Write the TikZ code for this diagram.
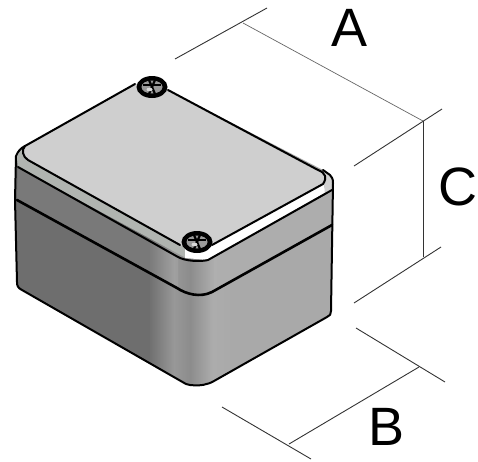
\documentclass[tikz,border=0pt]{standalone}
\usepackage{fontspec}
\setmainfont{Liberation Sans}
\usetikzlibrary{calc}
\definecolor{boxdark}{HTML}{6E6E6E}
\definecolor{boxmid}{HTML}{989898}
\definecolor{boxmidb}{HTML}{8C8C8C}
\definecolor{boxlite}{HTML}{ACACAC}
\definecolor{boxright}{HTML}{A9A9A9}
\definecolor{lidgray}{HTML}{CFCFCF}
\definecolor{rimleft}{HTML}{B0B4B0}
\pgfdeclarehorizontalshading{cornershade}{100bp}{
 color(0bp)=(boxdark); color(24bp)=(boxdark); color(40bp)=(boxmid); color(50bp)=(boxmidb); color(64bp)=(boxlite); color(78bp)=(boxright); color(100bp)=(boxright)}
\tikzset{
  x=1pt,y=-1pt,
  edge/.style={black,line width=2pt,line join=round,line cap=round},
  dimline/.style={black!60,line width=0.7pt},
  extline/.style={black!80,line width=0.9pt},
  dimlabel/.style={font=\fontsize{54}{54}\selectfont,inner sep=0pt,text=black},
}
\begin{document}
\begin{tikzpicture}
\useasboundingbox (0,0) rectangle (478,461);
\coordinate (a1) at (175,59); \coordinate (a2) at (267,8);
\coordinate (a3) at (354,166); \coordinate (a4) at (442,109);
\coordinate (a5) at (243,23); \coordinate (a6) at (423,121);
\coordinate (c1) at (354,303); \coordinate (c2) at (441,247);
\coordinate (c3) at (423,121); \coordinate (c4) at (423,257);
\coordinate (b1) at (356,328); \coordinate (b2) at (445,382);
\coordinate (b3) at (222,407); \coordinate (b4) at (311,459);
\coordinate (b5) at (289,444); \coordinate (b6) at (419,367);
\draw[extline] (a1)--(a2);
\draw[extline] (a3)--(a4);
\draw[dimline] (a5)--(a6);
\draw[extline] (c1)--(c2);
\draw[extline] (c3)--(c4);
\draw[extline] (b1)--(b2);
\draw[extline] (b3)--(b4);
\draw[extline] (b5)--(b6);
\node[dimlabel] (la) at (350,27.5) {A};
\node[dimlabel] (lc) at (458,187) {C};
\node[dimlabel] (lb) at (387,427) {B};
\def\outline{(16,156) .. controls (18,151) and (21,148) .. (25,146)
 -- (135,84) -- (168,90) -- (323,170) -- (330,175)
 .. controls (332,177) and (333,179) .. (333,183)
 -- (332,247) -- (331,311) .. controls (331,314) and (330,316) .. (327,317)
 -- (214,381) .. controls (207,385) and (200,386) .. (190,385)
 -- (186,384) -- (22,290) .. controls (18,288) and (17,286) .. (17,282) -- (15,200) -- cycle}
\fill[boxright] \outline;
\begin{scope}
  \clip \outline;
  \fill[boxdark] (0,140) rectangle (176,400);
  \shade[shading=cornershade] (150,140) rectangle (230,400);
  \fill[black!30,opacity=.5] (214,250) -- (332,185) -- (332,225) -- (214,290) -- cycle;
  \fill[white,opacity=.08] (18,167) -- (178,257) -- (178,288) -- (17,200) -- cycle;
  \fill[rimleft] (16,150) -- (25,146) -- (190,240) -- (186,258) -- (18,167) -- cycle;
  \fill[white] (185,243) -- (212,243) -- (322,180) -- (326,192) -- (208,260) -- (185,258) -- cycle;
  \fill[black!18] (323,170) -- (335,175) -- (335,190) -- (325,195) -- cycle;
\end{scope}
\fill[lidgray] (25,146) -- (135,84) -- (168,90) -- (318,170)
  .. controls (326,173) and (327,178) .. (323,184)
  -- (212,245) .. controls (202,250) and (190,250) .. (180,245)
  -- (28,160) .. controls (23,157) and (21,150) .. (25,146) -- cycle;
\draw[edge] (25,146) -- (135,84);
\draw[edge] (168,90) -- (318,170) .. controls (326,173) and (327,178) .. (323,184) -- (212,245);
\draw[edge] (180,245) -- (28,160) .. controls (23,157) and (21,150) .. (25,146);
\draw[edge] (18,167) -- (178,257) .. controls (185,261) and (200,262) .. (208,260) -- (332,190);
\draw[edge,line width=2.6pt] (17,200) -- (177,288) .. controls (186,294) and (200,298) .. (212,292) -- (332,225);
\draw[edge] (25,146) .. controls (21,148) and (18,151) .. (16,156) -- (15,200) -- (17,282)
  .. controls (17,286) and (18,288) .. (22,290) -- (186,384) -- (190,385)
  .. controls (200,386) and (207,385) .. (214,381) -- (327,317)
  .. controls (330,316) and (331,314) .. (331,311) -- (332,247) -- (333,183)
  .. controls (333,179) and (332,177) .. (330,175) -- (323,170);
\foreach \n/\cx/\cy in {top/152/87,bot/197/242}{
  \fill[black] (\cx,\cy) ellipse [x radius=15.5,y radius=11];
  \fill[black!40] (\cx,\cy) ellipse [x radius=10.5,y radius=6.5];
  \draw[black,line width=2.2pt] (\cx-9,\cy-2) -- (\cx+9,\cy-2);
  \draw[black,line width=2.2pt] (\cx-3,\cy-7) -- (\cx+3,\cy+7);
  \draw[black,line width=2.2pt] (\cx+3,\cy-7) -- (\cx-3,\cy+7);
  \fill[white!85!black] (\cx-2.5,\cy+2.5) ellipse [x radius=3,y radius=1.8];
}
\end{tikzpicture}
\end{document}
